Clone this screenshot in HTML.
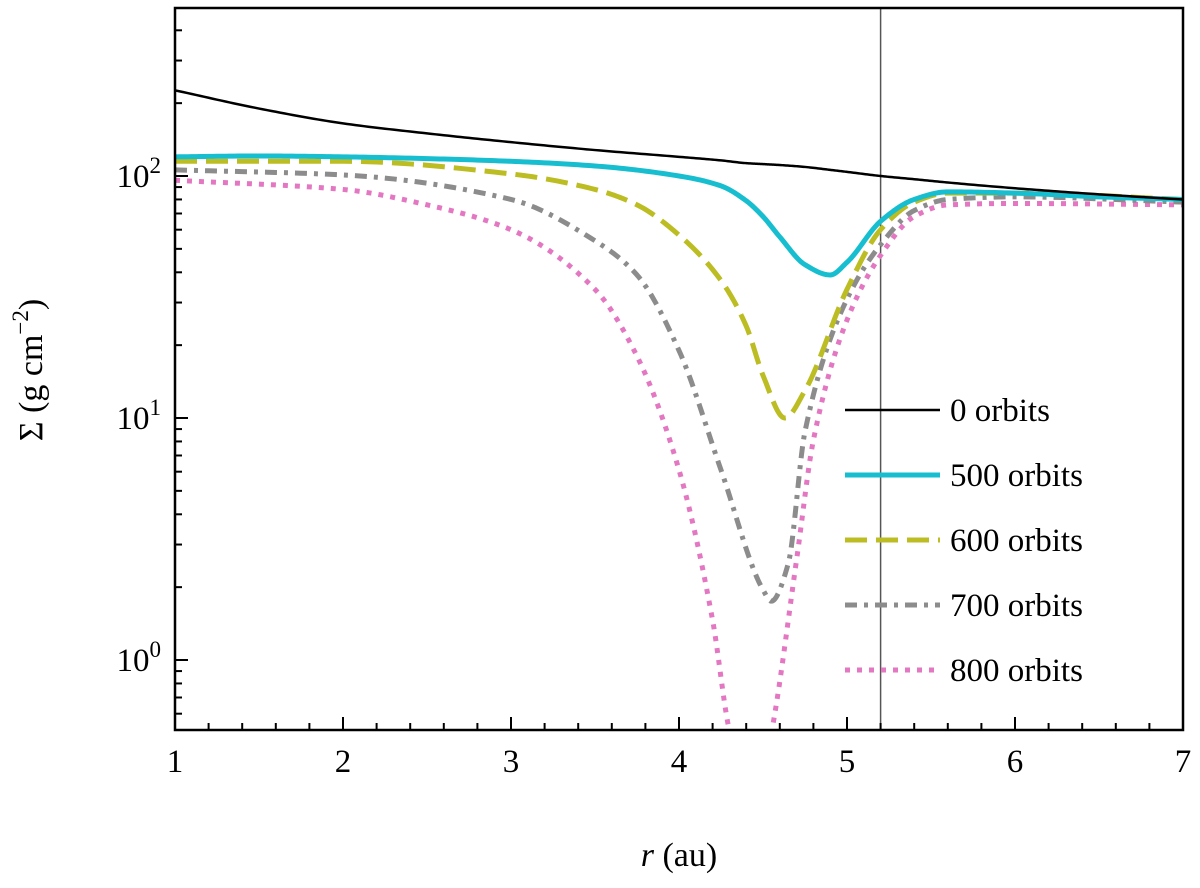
<!DOCTYPE html>
<html><head><meta charset="utf-8"><style>
body{margin:0;background:#fff}
svg text{font-family:"Liberation Serif","DejaVu Serif",serif;fill:#000}
</style></head><body>
<svg id="chart" width="1200" height="883" xmlns="http://www.w3.org/2000/svg">
<g id="plot"></g>
<g id="axes"></g>
<g id="legend"></g>
</svg>
<script>
const radii=[1,1.5,2,2.5,3,3.5,4,4.25,4.4,4.5,4.6,4.75,4.9,5,5.2,5.4,5.6,6,6.5,7];
const orbits0=[226,190,165,150,138,128,120,116,113,112,111,109,106,104,100,97,94,89,84,80];
const orbits500=[120,121,120,118,115,110,100,91,79,68,56,43,39,44,65,80,86,85,82,80];
const radii600=[1,2,3,3.5,3.75,4,4.25,4.4,4.5,4.63,4.75,5,5.2,5.4,5.6,6,7];
const orbits600=[115,115,102,88,76,57,37,24,15,10,13,34,60,78,85,85,80];
const radii700=[1,2,3,3.5,3.75,4,4.25,4.5,4.55,4.65,4.75,5,5.2,5.4,5.6,6,7];
const orbits700=[106,101,80,54,39,19,6.1,1.95,1.75,2.5,8.8,31,52,72,80,82,78];
const radii800=[1,2,2.5,3,3.5,3.75,4,4.2,4.3,4.4,4.5,4.55,4.7,4.8,5,5.2,5.4,5.6,6,7];
const orbits800=[96,88,76,60,34,18,6.1,1.46,0.51,0.3,0.35,0.5,2.6,8.1,25.4,47,68,76,77,76];
const xTicks=[1,2,3,4,5,6,7];
const yTicks=[0,1,2];
const NS="http://www.w3.org/2000/svg";
const X0=175,X1=1183,Y0=8,Y1=730;
const xs=r=>X0+(r-1)*168;
const ys=v=>660-Math.log10(v)*242;
function mk(tag,attrs,parent){const e=document.createElementNS(NS,tag);for(const k in attrs)e.setAttribute(k,attrs[k]);parent.appendChild(e);return e;}
const plot=document.getElementById('plot'),axes=document.getElementById('axes'),legend=document.getElementById('legend');
const defs=mk('defs',{},plot);const cp=mk('clipPath',{id:'cp'},defs);mk('rect',{x:X0,y:Y0,width:X1-X0,height:Y1-Y0},cp);
function pathD(R,V){
 const n=R.length,L=V.map(v=>Math.log10(v));
 const d=[],m=new Array(n);
 for(let i=0;i<n-1;i++)d.push((L[i+1]-L[i])/(R[i+1]-R[i]));
 m[0]=d[0];m[n-1]=d[n-2];
 for(let i=1;i<n-1;i++){if(d[i-1]*d[i]<=0)m[i]=0;else{const h0=R[i]-R[i-1],h1=R[i+1]-R[i];const w1=2*h1+h0,w2=h1+2*h0;m[i]=(w1+w2)/(w1/d[i-1]+w2/d[i]);}}
 let s='';
 for(let i=0;i<n-1;i++){const h=R[i+1]-R[i];
  for(let k=0;k<=20;k++){if(i>0&&k==0)continue;const t=k/20,t2=t*t,t3=t2*t;
   const y=(2*t3-3*t2+1)*L[i]+(t3-2*t2+t)*h*m[i]+(-2*t3+3*t2)*L[i+1]+(t3-t2)*h*m[i+1];
   const px=xs(R[i]+t*h),py=660-y*242;
   s+=(s?' L':'M')+px.toFixed(2)+','+py.toFixed(2);}}
 return s;}
const series=[
 {name:'0 orbits',R:radii,V:orbits0,c:'#000',w:2.5,da:'',nm:'line-0-orbits'},
 {name:'500 orbits',R:radii,V:orbits500,c:'#17becf',w:5,da:'',nm:'line-500-orbits'},
 {name:'600 orbits',R:radii600,V:orbits600,c:'#bcbd22',w:5,da:'22,9',nm:'line-600-orbits'},
 {name:'700 orbits',R:radii700,V:orbits700,c:'#8c8c8c',w:5,da:'12,7,4,7',nm:'line-700-orbits'},
 {name:'800 orbits',R:radii800,V:orbits800,c:'#e377c2',w:5,da:'5,7',nm:'line-800-orbits'}];
const g=mk('g',{'clip-path':'url(#cp)'},plot);
const vl=mk('line',{x1:xs(5.2),x2:xs(5.2),y1:Y0,y2:Y1,stroke:'#555','stroke-width':1.5},g);


for(let i=series.length-1;i>=0;i--){const s=series[i];
 const p=mk('path',{d:pathD(s.R,s.V),fill:'none',stroke:s.c,'stroke-width':s.w,'stroke-dasharray':s.da,'stroke-linejoin':'round'},g);
 
 }
mk('rect',{x:X0,y:Y0,width:X1-X0,height:Y1-Y0,fill:'none',stroke:'#000','stroke-width':2.5},axes);
for(let r=1;r<=7.001;r+=0.2){const maj=Math.abs(r-Math.round(r))<1e-6;
 mk('line',{x1:xs(r),x2:xs(r),y1:Y1,y2:Y1-(maj?13:7),stroke:'#000','stroke-width':2},axes);}
xTicks.forEach(t=>{const e=mk('text',{x:xs(t),y:Y1+42,'text-anchor':'middle','font-size':33},axes);e.textContent=t;
 
 });
for(let dec=-1;dec<=2;dec++)for(let m=1;m<10;m++){const v=m*Math.pow(10,dec);const y=ys(v);if(y<Y0||y>Y1)continue;
 mk('line',{x1:X0,x2:X0+(m==1?13:7),y1:y,y2:y,stroke:'#000','stroke-width':2},axes);}
yTicks.forEach(t=>{const e=mk('text',{x:X0-14,y:ys(Math.pow(10,t))+11,'text-anchor':'end','font-size':33},axes);
 e.innerHTML='10<tspan dy="-14" font-size="23">'+t+'</tspan>';
 
 });
const xl=mk('text',{x:679,y:866,'text-anchor':'middle','font-size':34},axes);xl.innerHTML='<tspan font-style="italic">r</tspan> (au)';


const yl=mk('text',{x:0,y:0,'text-anchor':'middle','font-size':34,transform:'translate(42,370) rotate(-90)'},axes);
yl.innerHTML='Σ (g cm<tspan dy="-14" font-size="23">−2</tspan><tspan dy="14">)</tspan>';


series.forEach((s,i)=>{const y=410+i*65;const gg=mk('g',{},legend);
 
 
 mk('line',{x1:845,x2:940,y1:y,y2:y,stroke:s.c,'stroke-width':s.w,'stroke-dasharray':s.da},gg);
 const t=mk('text',{x:950,y:y+11,'font-size':33},gg);t.textContent=s.name;});
</script>
</body></html>
